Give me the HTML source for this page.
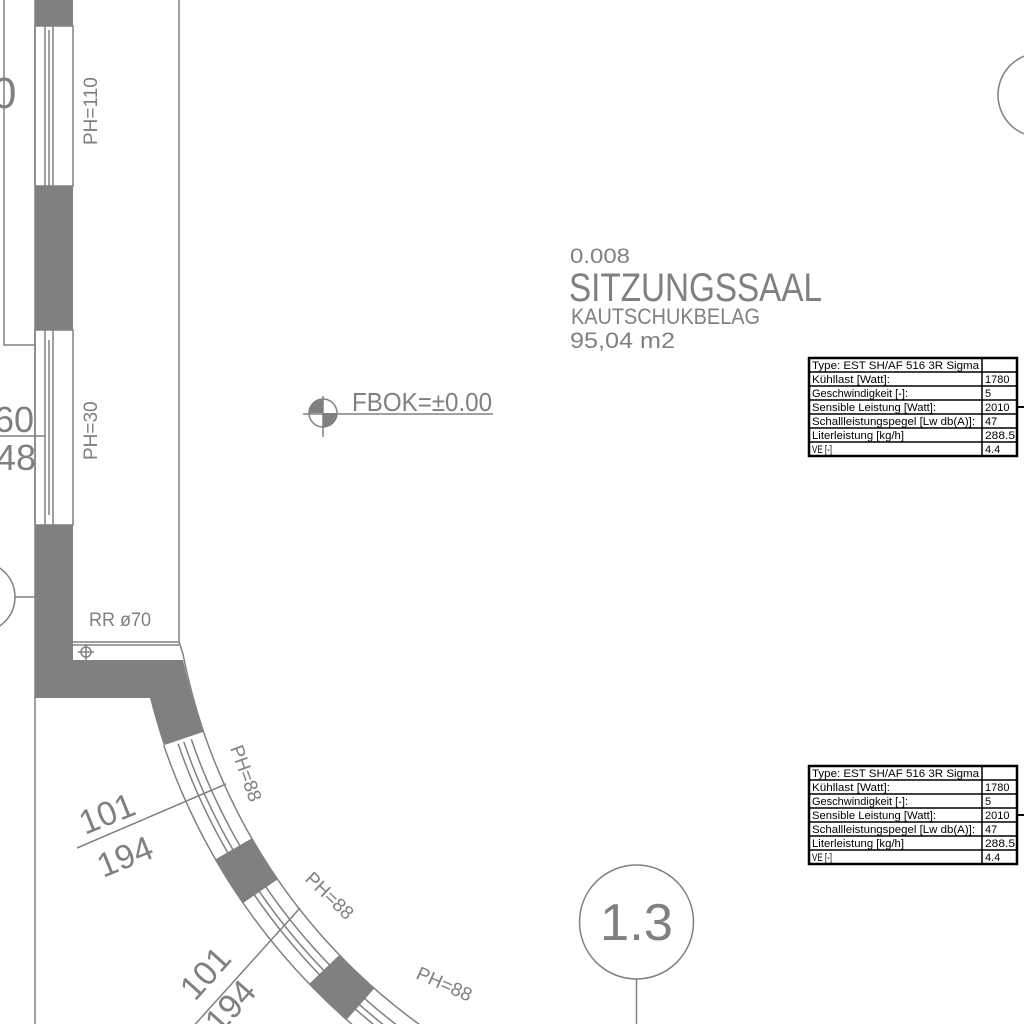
<!DOCTYPE html>
<html><head><meta charset="utf-8"><style>html,body{margin:0;padding:0;background:#fff;overflow:hidden;width:1024px;height:1024px}svg{display:block;overflow:hidden}</style></head>
<body>
<svg width="1024" height="1024" viewBox="0 0 1024 1024" xmlns="http://www.w3.org/2000/svg" xmlns:xlink="http://www.w3.org/1999/xlink" font-family="Liberation Sans, sans-serif">
<g stroke="#808080" stroke-width="1.5" fill="none">
  <path d="M4 0 V345 H35"/>
  <line x1="179" y1="0" x2="179" y2="642"/>
  <line x1="35" y1="0" x2="35" y2="1024"/>
  <rect x="35" y="26" width="38" height="160"/>
  <line x1="45" y1="26" x2="45" y2="190"/><line x1="49" y1="30" x2="49" y2="186"/><line x1="53" y1="26" x2="53" y2="190"/>
  <rect x="35" y="330" width="38" height="195"/>
  <line x1="45" y1="330" x2="45" y2="525"/><line x1="49" y1="340" x2="49" y2="515"/><line x1="53" y1="330" x2="53" y2="525"/>
  <path d="M73 642 H179 L183 654"/>
  <line x1="73" y1="645" x2="179" y2="645"/>
  <circle cx="86" cy="652" r="5"/><line x1="78" y1="652" x2="94" y2="652"/><line x1="86" y1="644" x2="86" y2="660"/>
  <circle cx="-20" cy="597" r="35"/><line x1="15" y1="597" x2="35" y2="597"/>
  <line x1="0" y1="436" x2="45" y2="436"/>
  <path d="M183 654 A598 598 0 0 0 565.5 1102"/>
  <path d="M163.8 745.2 A640 640 0 0 0 551 1141"/>
  <!-- window frame lines -->
  <path d="M191.3 739.3 A612 612 0 0 0 240 846"/>
  <path d="M183.8 741.9 A620 620 0 0 0 233.1 850"/>
  <path d="M178.1 743.8 A626 626 0 0 0 227.9 853"/>
  <path d="M265.6 886.6 A612 612 0 0 0 329.8 965.2"/>
  <path d="M259.1 891.2 A620 620 0 0 0 324 970.7"/>
  <path d="M254.1 894.6 A626 626 0 0 0 319.7 974.9"/>
  <path d="M364.5 998.4 A612 612 0 0 0 560.7 1115"/>
  <path d="M359.2 1004.4 A620 620 0 0 0 558 1122.6"/>
  <path d="M355.2 1008.9 A626 626 0 0 0 555.9 1128"/>
  <line x1="215.8" y1="860" x2="252.1" y2="839"/>
  <line x1="242.6" y1="902.5" x2="277.2" y2="878.7"/>
  <line x1="309.6" y1="984.6" x2="339.9" y2="955.4"/>
  <line x1="345.9" y1="1019.4" x2="373.8" y2="987.9"/>
  <line x1="77" y1="848" x2="226" y2="784"/>
  <line x1="190" y1="1030" x2="300" y2="908"/>
  <circle cx="636.5" cy="922" r="57"/><line x1="636.5" y1="979" x2="636.5" y2="1024"/>
  <circle cx="1040" cy="95" r="42"/>
  <circle cx="323" cy="413" r="14"/>
  <line x1="303" y1="414" x2="493" y2="414"/><line x1="323" y1="396" x2="323" y2="437"/>
</g>
<g fill="#808080">
  <rect x="35" y="0" width="38" height="26"/>
  <rect x="35" y="186" width="38" height="144"/>
  <path d="M35 525 H73 V660 H183 A598 598 0 0 0 203.6 731.7 L163.8 745.2 A640 640 0 0 1 150 698 H35 Z"/>
  <path d="M252.1 839 A598 598 0 0 0 277.2 878.7 L242.6 902.5 A640 640 0 0 1 215.8 860 Z"/>
  <path d="M339.9 955.4 A598 598 0 0 0 373.8 987.9 L345.9 1019.4 A640 640 0 0 1 309.6 984.6 Z"/>
  <path d="M323 413 L309 413 A14 14 0 0 1 323 399 Z"/>
  <path d="M323 413 L337 413 A14 14 0 0 1 323 427 Z"/>
</g>
<g fill="#808080">
  <text x="570" y="263" font-size="21" textLength="60" lengthAdjust="spacingAndGlyphs">0.008</text>
  <text x="569" y="301" font-size="40" textLength="253" lengthAdjust="spacingAndGlyphs">SITZUNGSSAAL</text>
  <text x="571" y="324" font-size="22" textLength="189" lengthAdjust="spacingAndGlyphs">KAUTSCHUKBELAG</text>
  <text x="570" y="348" font-size="22" textLength="105" lengthAdjust="spacingAndGlyphs">95,04 m2</text>
  <text x="352" y="411" font-size="26" textLength="140" lengthAdjust="spacingAndGlyphs">FBOK=±0.00</text>
  <text x="600" y="940" font-size="52" textLength="73" lengthAdjust="spacingAndGlyphs">1.3</text>
  <text x="1022" y="113" font-size="48">2</text>
  <text x="-8" y="108" font-size="44">0</text>
  <text x="-6" y="432" font-size="36">60</text>
  <text x="-4" y="470" font-size="36">48</text>
  <text x="89" y="626" font-size="19" textLength="62" lengthAdjust="spacingAndGlyphs">RR ø70</text>
  <text transform="translate(97,145) rotate(-90)" font-size="19">PH=110</text>
  <text transform="translate(97,460) rotate(-90)" font-size="19">PH=30</text>
  <text transform="translate(230,748) rotate(70)" font-size="19">PH=88</text>
  <text transform="translate(304,880) rotate(44)" font-size="19">PH=88</text>
  <text transform="translate(415,978) rotate(24)" font-size="19">PH=88</text>
  <text transform="translate(85,835) rotate(-22)" font-size="34">101</text>
  <text transform="translate(103,878) rotate(-22)" font-size="34">194</text>
  <text transform="translate(195,1002) rotate(-48)" font-size="34">101</text>
  <text transform="translate(220,1035) rotate(-48)" font-size="34">194</text>
</g>
<g id="t1">
  <rect x="809" y="358" width="208" height="98" fill="none" stroke="#000" stroke-width="2.5"/>
  <g stroke="#000" stroke-width="1.5">
    <line x1="982" y1="358" x2="982" y2="456"/>
    <line x1="809" y1="372" x2="1017" y2="372"/><line x1="809" y1="386" x2="1017" y2="386"/>
    <line x1="809" y1="400" x2="1017" y2="400"/><line x1="809" y1="414" x2="1017" y2="414"/>
    <line x1="809" y1="428" x2="1017" y2="428"/><line x1="809" y1="442" x2="1017" y2="442"/>
    <line x1="1017" y1="407" x2="1024" y2="407" stroke-width="2"/>
  </g>
  <g font-size="11" fill="#000">
    <text x="812" y="369" textLength="167" lengthAdjust="spacingAndGlyphs">Type: EST SH/AF 516 3R Sigma</text>
    <text x="812" y="383" textLength="78" lengthAdjust="spacingAndGlyphs">Kühllast [Watt]:</text>
    <text x="812" y="397" textLength="96" lengthAdjust="spacingAndGlyphs">Geschwindigkeit [-]:</text>
    <text x="812" y="411" textLength="124" lengthAdjust="spacingAndGlyphs">Sensible Leistung [Watt]:</text>
    <text x="812" y="425" textLength="163" lengthAdjust="spacingAndGlyphs">Schallleistungspegel [Lw db(A)]:</text>
    <text x="812" y="439" textLength="92" lengthAdjust="spacingAndGlyphs">Literleistung [kg/h]</text>
    <text x="812" y="453" textLength="20" lengthAdjust="spacingAndGlyphs">VE [-]</text>
    <text x="985" y="383">1780</text><text x="985" y="397">5</text><text x="985" y="411">2010</text>
    <text x="985" y="425">47</text><text x="985" y="439" textLength="30" lengthAdjust="spacingAndGlyphs">288.5</text><text x="985" y="453">4.4</text>
  </g>
</g>
<use href="#t1" xlink:href="#t1" transform="translate(0,408)"/>
</svg>
</body></html>
